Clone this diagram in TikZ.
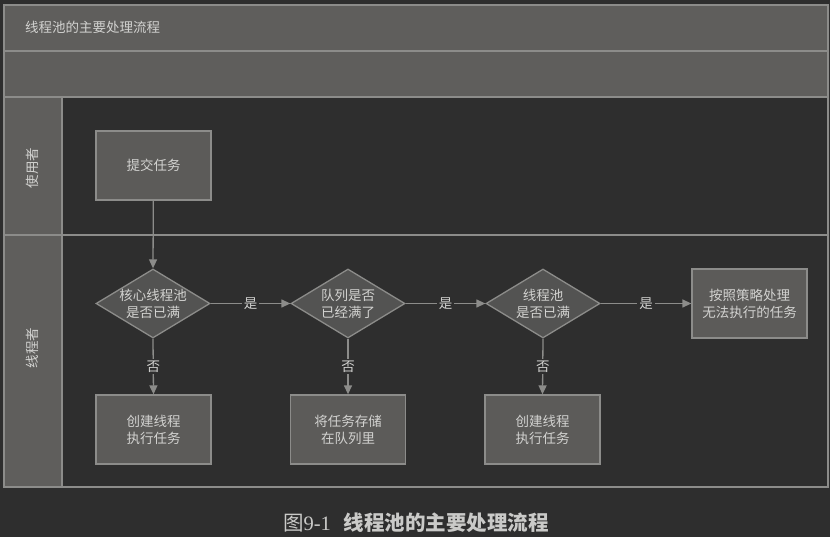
\documentclass[tikz,border=0pt]{standalone}
\usepackage{fontspec}
\newfontfamily\cjk{Noto Sans CJK SC}
\newfontfamily\lat{Liberation Serif}
\usetikzlibrary{shapes.geometric,arrows.meta}
\definecolor{bg}{HTML}{2E2E2E}
\definecolor{band}{HTML}{5F5E5C}
\definecolor{rule}{HTML}{8C8C8A}
\definecolor{boxfill}{HTML}{5C5B59}
\definecolor{diafill}{HTML}{535352}
\definecolor{txt}{HTML}{D2D2D0}
\tikzset{
  x=1pt, y=-1pt,
  every node/.style={font=\cjk\fontsize{13.5}{17}\selectfont, text=txt},
  procbox/.style={draw=rule, line width=1.3pt, fill=boxfill, minimum width=115pt, minimum height=69pt, inner sep=0pt, align=center},
  decision/.style={diamond, draw=rule, line width=1.3pt, fill=diafill, minimum width=114pt, minimum height=69pt, inner sep=0pt},
  dtext/.style={align=center, inner sep=0pt},
  flow/.style={draw=rule, line width=1.3pt, -{Triangle[length=9pt,width=8pt]}},
  lbl/.style={fill=bg, inner sep=2pt},
  lanelbl/.style={rotate=90, inner sep=0pt},
}
\begin{document}
\begin{tikzpicture}
\fill[bg] (0,0) rectangle (830,537);
\useasboundingbox (0,0) rectangle (830,537);
% bands
\fill[band] (4,5) rectangle (828,97);
\fill[band] (4,97) rectangle (62,487);
\draw[rule, line width=1.6pt] (4,5) rectangle (828,487);
\draw[rule, line width=1.6pt] (4,51) -- (828,51);
\draw[rule, line width=1.6pt] (4,97) -- (828,97);
\draw[rule, line width=1.6pt] (4,235) -- (828,235);
\draw[rule, line width=1.6pt] (62,97) -- (62,487);
\node[anchor=west, inner sep=0pt] (title) at (25,27) {线程池的主要处理流程};
\node[lanelbl] (lane1) at (32,168) {使用者};
\node[lanelbl] (lane2) at (32,348) {线程者};
% nodes
\node[procbox] (submit) at (153.5,165.5) {提交任务};
\node[decision] (d1) at (153,303.5) {};
\node[dtext] (d1t) at (d1.center) {核心线程池\\是否已满};
\node[decision] (d2) at (348,303.5) {};
\node[dtext] (d2t) at (d2.center) {队列是否\\已经满了};
\node[decision] (d3) at (543,303.5) {};
\node[dtext] (d3t) at (d3.center) {线程池\\是否已满};
\node[procbox] (reject) at (749.5,303.5) {按照策略处理\\无法执行的任务};
\node[procbox] (b1) at (153.5,429.5) {创建线程\\执行任务};
\node[procbox] (b2) at (348,429.5) {将任务存储\\在队列里};
\node[procbox] (b3) at (542.5,429.5) {创建线程\\执行任务};
% connectors
\draw[flow] (submit) -- (d1.north);
\draw[flow] (d1.east) -- node[lbl] (y1) {是} (d2.west);
\draw[flow] (d2.east) -- node[lbl] (y2) {是} (d3.west);
\draw[flow] (d3.east) -- node[lbl] (y3) {是} (reject.west);
\draw[flow] (d1.south) -- node[lbl] (n1) {否} (b1.north);
\draw[flow] (d2.south) -- node[lbl] (n2) {否} (b2.north);
\draw[flow] (d3.south) -- node[lbl] (n3) {否} (b3.north);
% caption
\node[font=\cjk\fontsize{20.5}{23}\selectfont, text=txt!90!gray] (cap) at (416,523) {图{\lat 9-1}\hspace{13pt}{\bfseries 线程池的主要处理流程}};
\end{tikzpicture}
\end{document}
